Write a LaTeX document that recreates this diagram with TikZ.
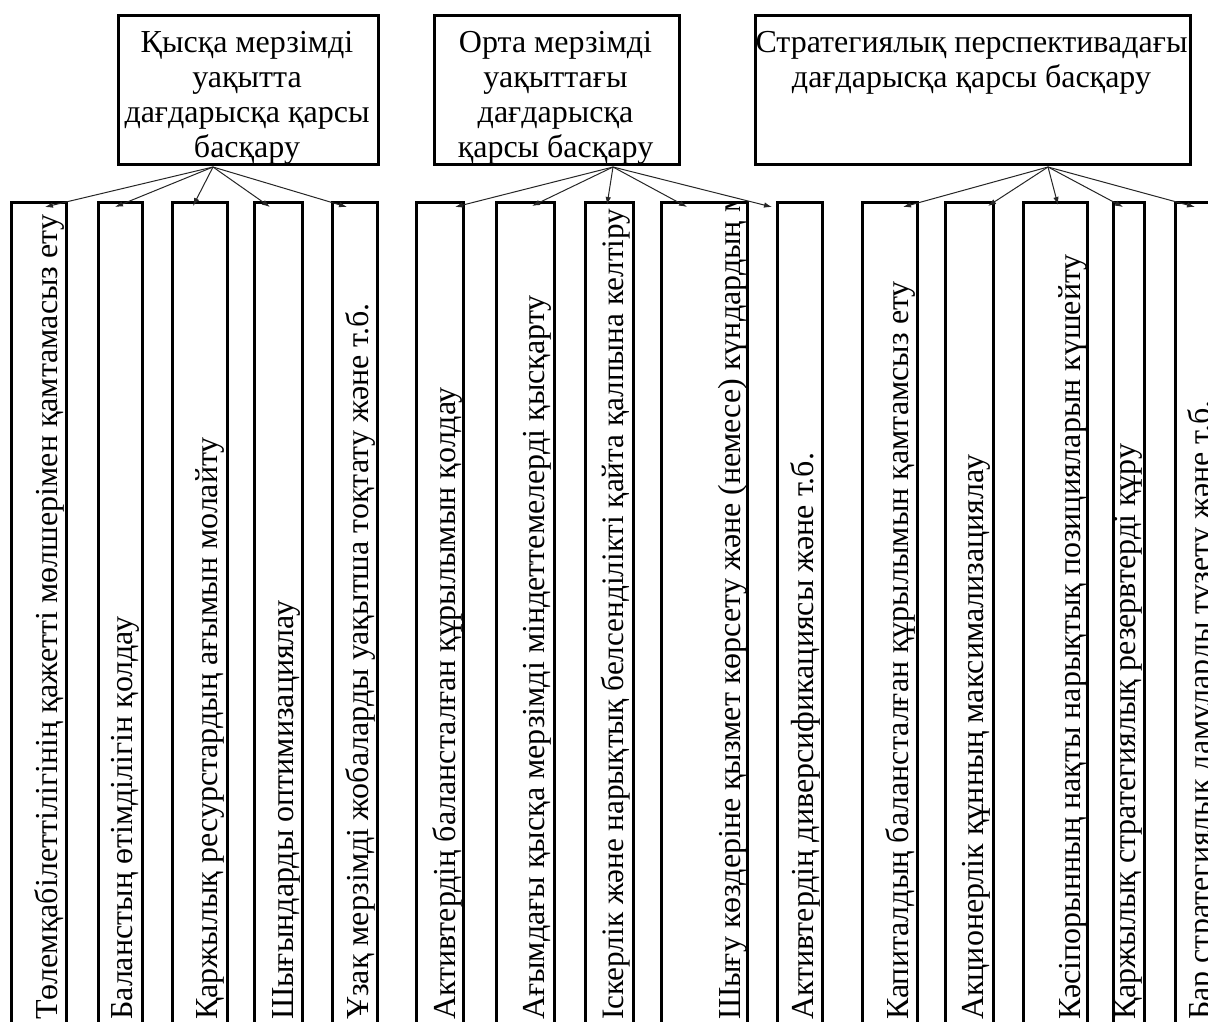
\documentclass[tikz,border=0pt]{standalone}
\usepackage{fontspec}
\setmainfont{Liberation Serif}
\usetikzlibrary{arrows.meta}
\tikzset{
  topbox/.style={draw, line width=2.6pt, inner sep=0pt, anchor=north west},
  lowbox/.style={draw, line width=3pt, inner sep=0pt, minimum height=839pt},
  vtext/.style={rotate=90, anchor=base west, inner sep=0pt, font=\fontsize{32}{35}\selectfont},
  toptext/.style={align=center, inner sep=0pt, font=\fontsize{32}{35}\selectfont},
  arr/.style={line width=1pt, draw=black!85, -{Latex[length=8pt,width=5.5pt]}}
}
\newcommand{\lbx}[5]{%
  \node[lowbox, anchor=north west, minimum width={(#3-#2)*1pt}] (#1) at (#2,201) {};
  \begin{scope}
    \clip (#1.north west) rectangle (#1.south east);
    \node[vtext] (#1t) at (#4,1020) {#5};
  \end{scope}
}
\begin{document}
\begin{tikzpicture}[x=1pt,y=-1pt]
\useasboundingbox (0,0) rectangle (1208,1021);
\clip (0,0) rectangle (1208,1021);
\fill[white] (0,0) rectangle (1208,1021);

% top boxes
\node[topbox, minimum width=260pt, minimum height=149pt] (t1) at (117,14) {};
\node[toptext] (t1t) at (247,98) {Қысқа мерзімді\\уақытта\\дағдарысқа қарсы\\басқару};
\node[topbox, minimum width=245pt, minimum height=149pt] (t2) at (433,14) {};
\node[toptext] (t2t) at (555.5,98) {Орта мерзімді\\уақыттағы\\дағдарысқа\\қарсы басқару};
\node[topbox, minimum width=435pt, minimum height=149pt] (t3) at (754,14) {};
\node[toptext, anchor=north] (t3t) at (971.5,31) {Стратегиялық перспективадағы\\дағдарысқа қарсы басқару};

% lower boxes
\lbx{b1}{10}{65}{57}{Төлемқабілеттілігінің қажетті мөлшерімен қамтамасыз ету}
\lbx{b2}{97}{141}{132}{Баланстың өтімділігін қолдау}
\lbx{b3}{171}{226}{217}{Қаржылық ресурстардың ағымын молайту}
\lbx{b4}{253}{301}{293}{Шығындарды оптимизациялау}
\lbx{b5}{331}{376}{368}{Ұзақ мерзімді жобаларды уақытша тоқтату және т.б.}
\lbx{b6}{415}{462}{455}{Активтердің балансталған құрылымын қолдау}
\lbx{b7}{495}{553}{544}{Ағымдағы қысқа мерзімді міндеттемелерді қысқарту}
\lbx{b8}{584}{632}{623}{\fontsize{31.2}{35}\selectfont Іскерлік және нарықтық белсенділікті қайта қалпына келтіру}
\lbx{b9}{660}{746}{740}{Шығу көздеріне қызмет көрсету және (немесе) күндардың ми}
\lbx{b10}{776}{821}{813}{Активтердің диверсификациясы және т.б.}
\lbx{b11}{861}{916}{908}{Капиталдың балансталған құрылымын қамтамсыз ету}
\lbx{b12}{944}{992}{983}{Акционерлік құнның максимализациялау}
\lbx{b13}{1022}{1086}{1080}{Кәсіпорынның нақты нарықтық позицияларын күшейту}
\lbx{b14}{1112}{1143}{1135}{Қаржылық стратегиялық резервтерді құру}
\lbx{b15}{1174}{1225}{1210}{Бар стратегиялық дамуларды түзету және т.б.}

% arrow origins and tips
\coordinate (o1) at (213,167);
\coordinate (o2) at (613,167);
\coordinate (o3) at (1048,167);
\coordinate (p1) at (45,207);
\coordinate (p2) at (115,207);
\coordinate (p3) at (193,206);
\coordinate (p4) at (270,207);
\coordinate (p5) at (347,207);
\coordinate (p6) at (455,207);
\coordinate (p7) at (532,206);
\coordinate (p8) at (607,205);
\coordinate (p9) at (687,207);
\coordinate (p10) at (772,207);
\coordinate (p11) at (903,207);
\coordinate (p12) at (988,206);
\coordinate (p13) at (1058,205);
\coordinate (p14) at (1123,207);
\coordinate (p15) at (1195,207);

\foreach \i in {1,...,5} {\draw[arr] (o1) -- (p\i);}
\foreach \i in {6,...,10} {\draw[arr] (o2) -- (p\i);}
\foreach \i in {11,...,15} {\draw[arr] (o3) -- (p\i);}
\end{tikzpicture}
\end{document}
